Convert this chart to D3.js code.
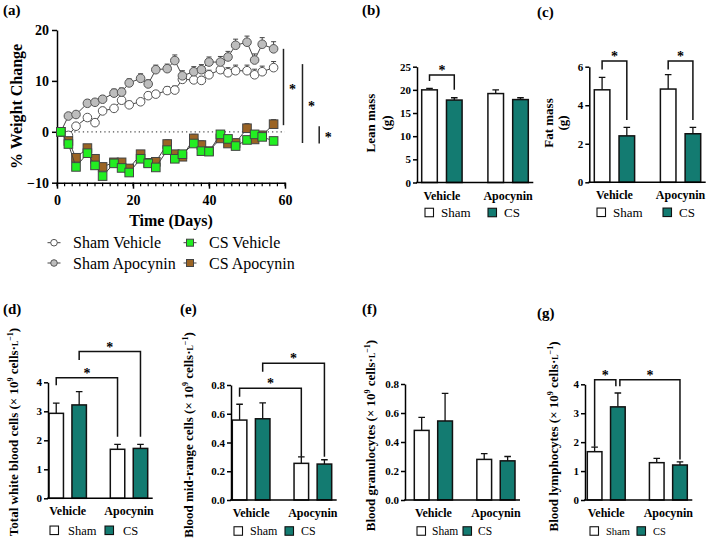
<!DOCTYPE html>
<html><head><meta charset="utf-8">
<script src="https://cdn.jsdelivr.net/npm/d3@7"></script>
<style>
body{margin:0;background:#fff}
svg{display:block}
text{font-family:"Liberation Serif","Times New Roman","DejaVu Serif",serif;fill:#000}
</style>
</head><body>
<svg id="c" width="709" height="540"></svg>
<script>
// ---------- Panel (a) data ----------
const days = [1,3,5,8,10,12,15,17,19,22,24,26,29,31,33,36,38,40,43,45,47,50,52,54,57];
const shamVehicle = [0,-0.7,1.1,2.8,1.8,4.1,4.6,6.2,5.3,5.9,7.1,7.4,8.1,8.2,10.3,10.2,10.1,11.2,12.2,11.6,12.0,12.0,11.2,11.8,12.6];
const shamVehicleErr = [0,0.5,0.6,0.6,0.7,0.7,0.6,0.7,0.7,0.6,0.7,0.7,0.8,0.8,0.9,0.9,0.8,0.9,1.0,1.0,1.1,1.1,1.1,1.1,1.2];
const shamApocynin = [0,3.1,3.4,5.6,5.8,6.4,7.6,7.8,9.6,10.5,9.4,12.2,12.4,14.0,11.0,11.8,12.2,13.7,13.7,14.7,17.0,17.6,14.1,17.2,16.3];
const shamApocyninErr = [0,0.6,0.6,0.7,0.6,0.7,0.8,0.8,0.8,0.9,0.8,0.9,0.9,1.1,1.0,1.0,1.0,1.0,1.1,1.1,1.2,1.2,1.2,1.3,1.4];
const csVehicle = [0,-2.4,-6.9,-4.2,-6.6,-8.7,-6.2,-7.1,-8.0,-5.3,-6.2,-7.0,-3.6,-5.3,-4.4,-2.3,-3.8,-3.9,-0.5,-1.4,-2.8,-1.6,-0.5,-1.0,-1.8];
const csVehicleErr = [0,0.5,0.6,0.6,0.6,0.6,0.6,0.6,0.6,0.6,0.6,0.6,0.7,0.6,0.6,0.7,0.6,0.6,0.7,0.7,0.6,0.7,0.7,0.7,0.7];
const csApocynin = [0,-1.8,-5.1,-3.2,-5.3,-6.9,-6.0,-6.0,-7.2,-4.4,-6.1,-5.9,-2.4,-4.4,-4.9,-1.3,-2.6,-3.8,-1.3,-2.3,-2.2,0.7,-1.5,-0.7,1.5];
const csApocyninErr = [0,0.6,0.7,0.7,0.7,0.7,0.6,0.7,0.7,0.7,0.7,0.7,0.8,0.7,0.7,0.8,0.8,0.7,0.8,0.8,0.8,0.9,0.8,0.8,0.9];
const weightTicks = [-10,0,10,20];
const dayTicks = [0,20,40,60];
const dayMinorTicks = d3.range(0,61,2);
// significance lines: [day position, from %, to %]
const sigLines = [[59.6,16.3,1.3],[64.6,13.3,-2.2],[69.0,1.1,-2.3]];

// ---------- Bar panels data ----------
const groups = ["Vehicle","Apocynin"];
const leanSham=[20.0,19.2], leanShamErr=[0.3,0.8], leanCS=[17.8,17.9], leanCSErr=[0.5,0.4];
const leanTicks=[0,5,10,15,20,25];
const fatSham=[4.8,4.84], fatShamErr=[0.65,0.75], fatCS=[2.41,2.52], fatCSErr=[0.44,0.33];
const fatTicks=[0,2,4,6];
const wbcSham=[2.93,1.69], wbcShamErr=[0.35,0.17], wbcCS=[3.22,1.72], wbcCSErr=[0.46,0.14];
const wbcTicks=[0,1,2,3,4];
const midSham=[0.556,0.255], midShamErr=[0.11,0.045], midCS=[0.565,0.25], midCSErr=[0.11,0.03];
const midTicks=[0,0.2,0.4,0.6,0.8];
const granSham=[0.48,0.28], granShamErr=[0.09,0.04], granCS=[0.545,0.27], granCSErr=[0.19,0.03];
const granTicks=[0,0.2,0.4,0.6,0.8];
const lymSham=[1.67,1.29], lymShamErr=[0.16,0.15], lymCS=[3.22,1.21], lymCSErr=[0.48,0.11];
const lymTicks=[0,1,2,3,4];

const TEAL = "#137b71";
const svg = d3.select("#c");

function panelLabel(t,x,y){
  svg.append("text").attr("x",x).attr("y",y).attr("font-weight","bold").attr("font-size",15).text(t);
}
function star(g,x,yc){
  g.append("text").attr("x",x).attr("y",yc+7).attr("text-anchor","middle")
   .attr("font-weight","bold").attr("font-size",14).attr("fill","#000").text("*");
}

// ================= Panel (a) =================
(function(){
  const g = svg.append("g");
  const x = d3.scaleLinear([0,60],[57,285]);
  const y = d3.scaleLinear([-10,20],[182.7,30]);
  // axes
  const ya = g.append("g").attr("transform",`translate(${x(0)},0)`)
    .call(d3.axisLeft(y).tickValues(weightTicks).tickSize(5).tickSizeOuter(0).tickPadding(3));
  const xa = g.append("g").attr("transform",`translate(0,${y(-10)})`)
    .call(d3.axisBottom(x).tickValues(dayTicks).tickSize(6).tickSizeOuter(0).tickPadding(6));
  g.append("g").selectAll("line").data(dayMinorTicks).join("line")
    .attr("x1",d=>x(d)).attr("x2",d=>x(d)).attr("y1",y(-10)).attr("y2",y(-10)+3.5)
    .attr("stroke","#000").attr("stroke-width",1.2);
  [ya,xa].forEach(a=>{
    a.selectAll("path,line").attr("stroke","#000").attr("stroke-width",1.5);
    a.selectAll("text").attr("font-family",null).attr("font-weight","bold").attr("font-size",14).attr("fill","#000");
  });
  ya.attr("font-family",null); xa.attr("font-family",null);
  // zero dotted
  g.append("line").attr("x1",x(0)).attr("x2",x(60)).attr("y1",y(0)).attr("y2",y(0))
    .attr("stroke","#555").attr("stroke-width",1.2).attr("stroke-dasharray","1.3,3");
  // titles
  g.append("text").attr("transform",`translate(${22},${y(5)}) rotate(-90)`)
    .attr("text-anchor","middle").attr("font-weight","bold").attr("font-size",16).text("% Weight Change");
  g.append("text").attr("x",171).attr("y",226).attr("text-anchor","middle")
    .attr("font-weight","bold").attr("font-size",16).text("Time (Days)");

  const series = [
    {v:shamVehicle,e:shamVehicleErr,shape:"circle",fill:"#ffffff"},
    {v:shamApocynin,e:shamApocyninErr,shape:"circle",fill:"#bdbdbd"},
    {v:csApocynin,e:csApocyninErr,shape:"square",fill:"#9b6424"},
    {v:csVehicle,e:csVehicleErr,shape:"square",fill:"#22ee22"}
  ];
  const line = d3.line().x((d,i)=>x(days[i])).y(d=>y(d));
  series.forEach(s=>{
    const sg = g.append("g");
    sg.selectAll("path.err").data(s.v).join("path").attr("class","err")
      .attr("d",(d,i)=>`M${x(days[i])},${y(d)}V${y(d+s.e[i])}M${x(days[i])-2.5},${y(d+s.e[i])}H${x(days[i])+2.5}`)
      .attr("stroke","#444").attr("stroke-width",1).attr("fill","none");
    sg.append("path").attr("d",line(s.v)).attr("fill","none").attr("stroke","#444").attr("stroke-width",1);
    if(s.shape==="circle"){
      sg.selectAll("circle").data(s.v).join("circle")
        .attr("cx",(d,i)=>x(days[i])).attr("cy",d=>y(d)).attr("r",4.3)
        .attr("fill",s.fill).attr("stroke","#555").attr("stroke-width",1);
    } else {
      sg.selectAll("rect").data(s.v).join("rect")
        .attr("x",(d,i)=>x(days[i])-4.3).attr("y",d=>y(d)-4.3).attr("width",8.6).attr("height",8.6)
        .attr("fill",s.fill).attr("stroke","#444").attr("stroke-width",1);
    }
  });
  // significance
  sigLines.forEach(([d,a,b])=>{
    g.append("line").attr("x1",x(d)).attr("x2",x(d)).attr("y1",y(a)).attr("y2",y(b))
      .attr("stroke","#222").attr("stroke-width",1.5);
    star(g,x(d)+9,y((a+b)/2));
  });
  // legend
  const leg = [
    {t:"Sham Vehicle",mx:54,ty:242.7,shape:"circle",fill:"#ffffff"},
    {t:"Sham Apocynin",mx:54,ty:263,shape:"circle",fill:"#bdbdbd"},
    {t:"CS Vehicle",mx:190,ty:242.7,shape:"square",fill:"#22ee22"},
    {t:"CS Apocynin",mx:190,ty:263,shape:"square",fill:"#9b6424"}
  ];
  leg.forEach(l=>{
    g.append("line").attr("x1",l.mx-6.5).attr("x2",l.mx+6.5).attr("y1",l.ty).attr("y2",l.ty)
      .attr("stroke","#444").attr("stroke-width",1);
    if(l.shape==="circle") g.append("circle").attr("cx",l.mx).attr("cy",l.ty).attr("r",3.3)
      .attr("fill",l.fill).attr("stroke","#555");
    else g.append("rect").attr("x",l.mx-3.5).attr("y",l.ty-3.5).attr("width",7).attr("height",7)
      .attr("fill",l.fill).attr("stroke","#444");
    g.append("text").attr("x",l.mx+19).attr("y",l.ty+5.5).attr("font-size",16).text(l.t);
  });
})();
panelLabel("(a)",3,15);

// ================= Bar panels =================
function titleRot(g,lines,cy,fs){
  lines.forEach(l=>{
    const t = g.append("text").attr("transform",`translate(${l.x+fs*0.35},${cy}) rotate(-90)`)
      .attr("text-anchor","middle").attr("font-weight","bold").attr("font-size",fs);
    l.parts.forEach(p=>{
      const ts = t.append("tspan").text(p.t);
      if(p.fs) ts.attr("font-size",p.fs);
      if(p.dy) ts.attr("dy",p.dy);
    });
  });
}
function unitParts(main){
  return [{t:main+" (× 10"},{t:"9",fs:8,dy:-5},{t:" cells·",dy:5},{t:"L",fs:8},{t:"−1",fs:8,dy:-5},{t:")",dy:5}];
}

function barPanel(o){
  const g = svg.append("g");
  const y = d3.scaleLinear([0,o.yMax],[o.y0,o.y1]);
  const xg = d3.scaleBand(groups,[o.bx0,o.bx1]).paddingInner(0.39);
  const xs = d3.scaleBand(["Sham","CS"],[0,xg.bandwidth()]).paddingInner(0.37);
  const cx = (grp,k)=>xg(grp)+xs(k)+xs.bandwidth()/2;
  const rows = [];
  groups.forEach((grp,i)=>{
    rows.push({grp,k:"Sham",v:o.sham[i],e:o.shamErr[i],fill:"#fff"});
    rows.push({grp,k:"CS",v:o.cs[i],e:o.csErr[i],fill:TEAL});
  });
  g.selectAll("path.err").data(rows).join("path")
    .attr("d",d=>{const c=cx(d.grp,d.k);return `M${c},${y(d.v)}V${y(d.v+d.e)}M${c-3.3},${y(d.v+d.e)}H${c+3.3}`;})
    .attr("stroke","#111").attr("stroke-width",1.3).attr("fill","none");
  g.selectAll("rect.bar").data(rows).join("rect")
    .attr("x",d=>xg(d.grp)+xs(d.k)).attr("width",xs.bandwidth())
    .attr("y",d=>y(d.v)).attr("height",d=>y(0)-y(d.v))
    .attr("fill",d=>d.fill).attr("stroke","#111").attr("stroke-width",1.5);
  const ya = g.append("g").attr("transform",`translate(${o.ax},0)`)
    .call(d3.axisLeft(y).tickValues(o.ticks).tickFormat(o.fmt||d3.format("")).tickSize(4).tickSizeOuter(0).tickPadding(2));
  ya.attr("font-family",null);
  ya.selectAll("path,line").attr("stroke","#000").attr("stroke-width",1.5);
  ya.selectAll("text").attr("font-weight","bold").attr("font-size",11).attr("fill","#000");
  g.append("line").attr("x1",o.ax-1).attr("x2",o.bx1+5).attr("y1",y(0)).attr("y2",y(0))
    .attr("stroke","#000").attr("stroke-width",1.5);
  groups.forEach(grp=>{
    g.append("text").attr("x",xg(grp)+xg.bandwidth()/2).attr("y",y(0)+17)
      .attr("text-anchor","middle").attr("font-weight","bold").attr("font-size",12).text(grp);
  });
  const ly = y(0)+o.legDy;
  const lfs = o.lfs||12;
  [[o.lx1,"#fff","Sham"],[o.lx2,TEAL,"CS"]].forEach(([lx,f,t])=>{
    g.append("rect").attr("x",lx).attr("y",ly-4.25).attr("width",8.5).attr("height",8.5)
      .attr("fill",f).attr("stroke","#111").attr("stroke-width",1.1);
    g.append("text").attr("x",lx+(o.lgap||16)).attr("y",ly+4.3).attr("font-size",lfs).text(t);
  });
  (o.brackets||[]).forEach(b=>{
    const x1 = cx(b.a[0],b.a[1])+(b.o1||0), x2 = cx(b.b[0],b.b[1])+(b.o2||0);
    g.append("path").attr("d",`M${x1},${y(b.l)}V${y(b.h)}H${x2}V${y(b.r)}`)
      .attr("fill","none").attr("stroke","#111").attr("stroke-width",1.5);
    star(g,(x1+x2)/2,y(b.h)-7);
  });
  titleRot(g,o.title,o.ty,13);
}

barPanel({yMax:25,y0:182.5,y1:66.7,ticks:leanTicks,ax:417,bx0:421.7,bx1:528.3,
  sham:leanSham,shamErr:leanShamErr,cs:leanCS,csErr:leanCSErr,legDy:30,lx1:425,lx2:488,lfs:13,
  brackets:[{a:["Vehicle","Sham"],b:["Vehicle","CS"],l:21.9,h:23.2,r:20.0}],
  title:[{x:370,parts:[{t:"Lean mass"}]},{x:386,parts:[{t:"(g)"}]}],ty:123});
panelLabel("(b)",362,15);

barPanel({yMax:6,y0:182.3,y1:66.7,ticks:fatTicks,ax:589.3,bx0:594.3,bx1:700.7,
  sham:fatSham,shamErr:fatShamErr,cs:fatCS,csErr:fatCSErr,legDy:30,lx1:597,lx2:663,lfs:13,
  brackets:[{a:["Vehicle","Sham"],b:["Vehicle","CS"],l:5.86,h:6.3,r:3.23},
            {a:["Apocynin","Sham"],b:["Apocynin","CS"],l:5.86,h:6.3,r:3.23}],
  title:[{x:548,parts:[{t:"Fat mass"}]},{x:562,parts:[{t:"(g)"}]}],ty:123});
panelLabel("(c)",537,17);

barPanel({yMax:4,y0:498.3,y1:382.3,ticks:wbcTicks,ax:48,bx0:49,bx1:147.7,
  sham:wbcSham,shamErr:wbcShamErr,cs:wbcCS,csErr:wbcCSErr,legDy:32,lx1:50,lx2:105,lfs:12.5,lgap:18,
  brackets:[{a:["Vehicle","Sham"],b:["Apocynin","Sham"],l:3.9,h:4.16,r:2.12},
            {a:["Vehicle","CS"],b:["Apocynin","CS"],l:4.77,h:5.06,r:2.12}],
  title:[{x:13,parts:unitParts("Total white blood cells")}],ty:432});
panelLabel("(d)",3,314);

barPanel({yMax:0.8,y0:500,y1:385,ticks:midTicks,fmt:d3.format(".1f"),ax:231,bx0:232.3,bx1:331.7,
  sham:midSham,shamErr:midShamErr,cs:midCS,csErr:midCSErr,legDy:31,lx1:234,lx2:285,lfs:12,
  brackets:[{a:["Vehicle","Sham"],b:["Apocynin","Sham"],l:0.719,h:0.777,r:0.301},
            {a:["Vehicle","CS"],b:["Apocynin","CS"],l:0.893,h:0.951,r:0.301}],
  title:[{x:188.3,parts:unitParts("Blood mid-range cells")}],ty:435});
panelLabel("(e)",180,314);

barPanel({yMax:0.8,y0:500,y1:384,ticks:granTicks,fmt:d3.format(".1f"),ax:405,bx0:414.3,bx1:515,
  sham:granSham,shamErr:granShamErr,cs:granCS,csErr:granCSErr,legDy:31,lx1:417,lx2:463,lfs:11.5,lgap:15,
  brackets:[],
  title:[{x:370,parts:unitParts("Blood granulocytes")}],ty:435.5});
panelLabel("(f)",362,314);

barPanel({yMax:4,y0:500,y1:384.3,ticks:lymTicks,ax:585,bx0:587.3,bx1:687.3,
  sham:lymSham,shamErr:lymShamErr,cs:lymCS,csErr:lymCSErr,legDy:31,lx1:590,lx2:637,lfs:10.5,lgap:16,
  brackets:[{a:["Vehicle","Sham"],b:["Vehicle","CS"],l:1.84,h:4.16,r:3.93,o2:-2},
            {a:["Vehicle","CS"],b:["Apocynin","CS"],l:3.93,h:4.16,r:1.40,o1:2}],
  title:[{x:553.3,parts:unitParts("Blood lymphocytes")}],ty:436.5});
panelLabel("(g)",537,318);
</script>
</body></html>
